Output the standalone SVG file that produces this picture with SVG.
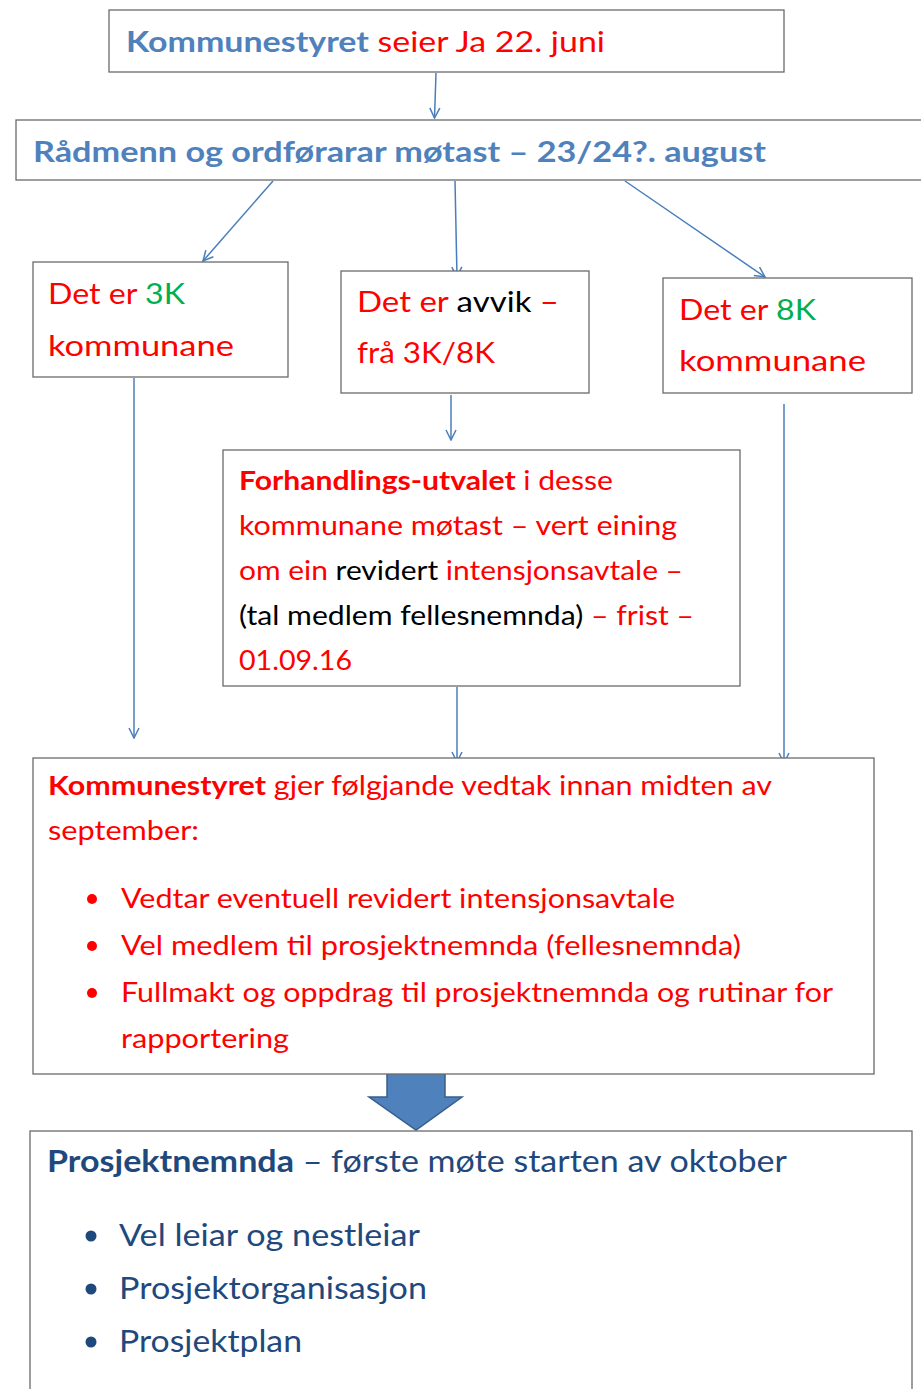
<svg xmlns="http://www.w3.org/2000/svg" width="921" height="1389" viewBox="0 0 921 1389">
<style>
.box{fill:#fff;stroke:#6b6b6b;stroke-width:1.3}
text{font-family:Lato,"Open Sans","Liberation Sans",sans-serif}
.t30{font-size:29px}
.t27{font-size:26px}
.t31{font-size:30px}
.r{fill:#ff0000}
.g{fill:#00b050}
.k{fill:#000}
.b{fill:#4f81bd}
.db{fill:#1f497d}
.bold{font-weight:bold}
.con{stroke:#4a7ebb;stroke-width:1.5;fill:none}
</style>
<defs>
<marker id="ah" viewBox="0 0 12 12" refX="11" refY="6" markerWidth="12" markerHeight="12" markerUnits="userSpaceOnUse" orient="auto">
<path d="M1,1 L11,6 L1,11" fill="none" stroke="#4a7ebb" stroke-width="1.5"/>
</marker>
</defs>
<rect width="921" height="1389" fill="#fff"/>

<g id="connectors">
<line class="con" x1="436" y1="73" x2="434.5" y2="118" marker-end="url(#ah)"/>
<line class="con" x1="273" y1="181" x2="203" y2="261" marker-end="url(#ah)"/>
<line class="con" x1="455" y1="181" x2="457" y2="277" marker-end="url(#ah)"/>
<line class="con" x1="625" y1="181" x2="765" y2="277" marker-end="url(#ah)"/>
<line class="con" x1="134" y1="378" x2="134" y2="738" marker-end="url(#ah)"/>
<line class="con" x1="451" y1="395" x2="451" y2="440" marker-end="url(#ah)"/>
<line class="con" x1="784" y1="404" x2="784" y2="763" marker-end="url(#ah)"/>
<line class="con" x1="457" y1="687" x2="457" y2="762" marker-end="url(#ah)"/>
<path d="M387,1073 H445 V1097 H462 L416,1130 L369,1097 H387 Z" fill="#4f81bd" stroke="#385d8a" stroke-width="1.5"/>
</g>

<g id="n1">
<rect class="box" x="109" y="10" width="675" height="62"/>
<text class="t30" x="126" y="52" textLength="479" lengthAdjust="spacingAndGlyphs"><tspan class="b bold">Kommunestyret</tspan><tspan class="r"> seier Ja 22. juni</tspan></text>
</g>

<g id="n2">
<rect class="box" x="16" y="120" width="910" height="60"/>
<text class="t30 b bold" x="33" y="162" textLength="733" lengthAdjust="spacingAndGlyphs">Rådmenn og ordførarar møtast – 23/24?. august</text>
</g>

<g id="n3k">
<rect class="box" x="33" y="262" width="255" height="115"/>
<text class="t30" x="48" y="304" textLength="137" lengthAdjust="spacingAndGlyphs"><tspan class="r">Det er </tspan><tspan class="g">3K</tspan></text>
<text class="t30 r" x="48" y="356" textLength="186" lengthAdjust="spacingAndGlyphs">kommunane</text>
</g>

<g id="navvik">
<rect class="box" x="341" y="271" width="248" height="122"/>
<text class="t30" x="357" y="312" textLength="202" lengthAdjust="spacingAndGlyphs"><tspan class="r">Det er </tspan><tspan class="k">avvik</tspan><tspan class="r"> –</tspan></text>
<text class="t30 r" x="357" y="363" textLength="138" lengthAdjust="spacingAndGlyphs">frå 3K/8K</text>
</g>

<g id="n8k">
<rect class="box" x="663" y="278" width="249" height="115"/>
<text class="t30" x="679" y="320" textLength="137" lengthAdjust="spacingAndGlyphs"><tspan class="r">Det er </tspan><tspan class="g">8K</tspan></text>
<text class="t30 r" x="679" y="371" textLength="187" lengthAdjust="spacingAndGlyphs">kommunane</text>
</g>

<g id="nforh">
<rect class="box" x="223" y="450" width="517" height="236"/>
<text class="t27" x="239" y="490" textLength="374" lengthAdjust="spacingAndGlyphs"><tspan class="r bold">Forhandlings-utvalet</tspan><tspan class="r"> i desse</tspan></text>
<text class="t27 r" x="239" y="535" textLength="438" lengthAdjust="spacingAndGlyphs">kommunane møtast – vert eining</text>
<text class="t27" x="239" y="580" textLength="444" lengthAdjust="spacingAndGlyphs"><tspan class="r">om ein </tspan><tspan class="k">revidert </tspan><tspan class="r">intensjonsavtale –</tspan></text>
<text class="t27" x="239" y="625" textLength="455" lengthAdjust="spacingAndGlyphs"><tspan class="k">(tal medlem fellesnemnda) </tspan><tspan class="r">– frist –</tspan></text>
<text class="t27 r" x="239" y="670" textLength="113" lengthAdjust="spacingAndGlyphs">01.09.16</text>
</g>

<g id="nkommune">
<rect class="box" x="33" y="758" width="841" height="316"/>
<text class="t27" x="48" y="795" textLength="724" lengthAdjust="spacingAndGlyphs"><tspan class="r bold">Kommunestyret</tspan><tspan class="r"> gjer følgjande vedtak innan midten av</tspan></text>
<text class="t27 r" x="48" y="840" textLength="151" lengthAdjust="spacingAndGlyphs">september:</text>
<circle cx="92" cy="899" r="5" fill="#ff0000"/>
<text class="t27 r" x="121" y="908" textLength="554" lengthAdjust="spacingAndGlyphs">Vedtar eventuell revidert intensjonsavtale</text>
<circle cx="92" cy="946" r="5" fill="#ff0000"/>
<text class="t27 r" x="121" y="955" textLength="620" lengthAdjust="spacingAndGlyphs">Vel medlem til prosjektnemnda (fellesnemnda)</text>
<circle cx="92" cy="993" r="5" fill="#ff0000"/>
<text class="t27 r" x="121" y="1002" textLength="712" lengthAdjust="spacingAndGlyphs">Fullmakt og oppdrag til prosjektnemnda og rutinar for</text>
<text class="t27 r" x="121" y="1048" textLength="168" lengthAdjust="spacingAndGlyphs">rapportering</text>
</g>

<g id="nprosjekt">
<rect class="box" x="30" y="1131" width="882" height="270"/>
<text class="t31" x="47" y="1172" textLength="740" lengthAdjust="spacingAndGlyphs"><tspan class="db bold">Prosjektnemnda</tspan><tspan class="db"> – første møte starten av oktober</tspan></text>
<circle cx="91" cy="1236" r="5.5" fill="#1f497d"/>
<text class="t31 db" x="119" y="1246" textLength="301" lengthAdjust="spacingAndGlyphs">Vel leiar og nestleiar</text>
<circle cx="91" cy="1289" r="5.5" fill="#1f497d"/>
<text class="t31 db" x="119" y="1299" textLength="308" lengthAdjust="spacingAndGlyphs">Prosjektorganisasjon</text>
<circle cx="91" cy="1342" r="5.5" fill="#1f497d"/>
<text class="t31 db" x="119" y="1352" textLength="183" lengthAdjust="spacingAndGlyphs">Prosjektplan</text>
</g>
</svg>
